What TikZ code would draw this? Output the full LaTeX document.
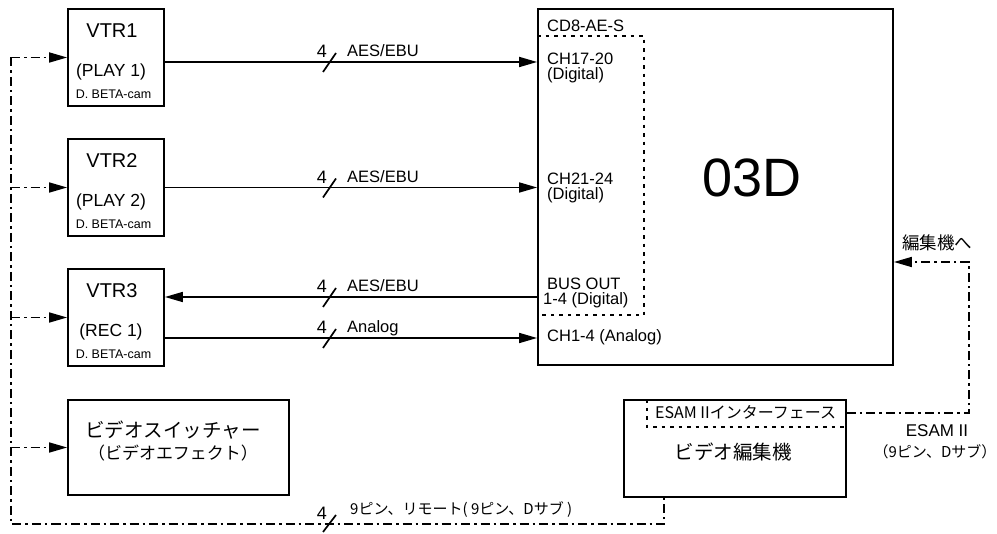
\documentclass[tikz,border=0pt]{standalone}
\usepackage{fontspec}
\setmainfont{Liberation Sans}
\newfontfamily\jp{Noto Sans CJK JP}
\usetikzlibrary{arrows.meta}
\newcommand\fsz[1]{\fontsize{#1}{#1}\selectfont}
\begin{document}
\begin{tikzpicture}[x=1pt,y=-1pt,
  box/.style={draw,line width=1.8pt,inner sep=0pt},
  sig/.style={line width=1.7pt},
  arr/.style={-{Triangle[length=18pt,width=10pt]}},
  dd/.style={line width=1.7pt,dash pattern=on 9pt off 4pt on 2.5pt off 4pt},
  dotb/.style={line width=1.7pt,dash pattern=on 3.5pt off 5pt},
  tx/.style={inner sep=0pt,anchor=base},
  txw/.style={inner sep=0pt,anchor=base west},
  slash/.style={line width=1.7pt}]
\useasboundingbox (0,0) rectangle (997,534);
\fill[white] (0,0) rectangle (997,534);

% boxes
\node[box,minimum width=96pt,minimum height=97pt] (vtr1) at (116,57.5) {};
\node[box,minimum width=96pt,minimum height=97pt] (vtr2) at (116,187.5) {};
\node[box,minimum width=96pt,minimum height=97pt] (vtr3) at (116,317.5) {};
\node[box,minimum width=221pt,minimum height=95pt] (sw) at (178.5,447.5) {};
\node[box,minimum width=355pt,minimum height=356pt] (d03) at (715.5,187) {};
\node[box,minimum width=222pt,minimum height=97pt] (ed) at (735,448.5) {};

% VTR texts
\node[tx,font=\fsz{20}] (v1a) at (112,38) {VTR1};
\node[tx,font=\fsz{17.5}] (v1b) at (111,77) {(PLAY 1)};
\node[tx,font=\fsz{12.5}] (v1c) at (113.5,99) {D. BETA-cam};
\node[tx,font=\fsz{20}] (v2a) at (112,168) {VTR2};
\node[tx,font=\fsz{17.5}] (v2b) at (111,207) {(PLAY 2)};
\node[tx,font=\fsz{12.5}] (v2c) at (113.5,229) {D. BETA-cam};
\node[tx,font=\fsz{20}] (v3a) at (112,298) {VTR3};
\node[tx,font=\fsz{17.5}] (v3b) at (111,337) {(REC 1)};
\node[tx,font=\fsz{12.5}] (v3c) at (113.5,359) {D. BETA-cam};

% switcher
\node[tx,font=\jp\fsz{19.5}] (swa) at (173,437.5) {ビデオスイッチャー};
\node[tx,font=\jp\fsz{17}] (swb) at (173,459.5) {（ビデオエフェクト）};

% 03D
\node[tx,font=\fsz{54}] (d03t) at (752,197) {03D};
\node[txw,font=\fsz{16.5}] (cd8) at (547,32) {CD8-AE-S};
\node[txw,font=\fsz{16.5}] (c17) at (547,65) {CH17-20};
\node[txw,font=\fsz{16.5}] (c17d) at (547,80) {(Digital)};
\node[txw,font=\fsz{16.5}] (c21) at (547,185) {CH21-24};
\node[txw,font=\fsz{16.5}] (c21d) at (547,200) {(Digital)};
\node[txw,font=\fsz{16.5}] (bus) at (547,290) {BUS OUT};
\node[txw,font=\fsz{16.5}] (busd) at (543,305) {1-4 (Digital)};
\node[txw,font=\fsz{16.5}] (c14) at (547,342) {CH1-4 (Analog)};
\draw[dotb] ([yshift=-28pt]d03.north west) -- ++(107,0) -- ++(0,279) -- ++(-107,0);

% editor
\draw[dotb] ([xshift=24pt]ed.north west) -- ++(0,28) coordinate (ic) -- (ic -| ed.east);
\node[txw,font=\jp\fsz{16}] (esi) at (655,419) {ESAM IIインターフェース};
\node[tx,font=\jp\fsz{19.5}] (edt) at (733,459.5) {ビデオ編集機};

% signal lines
\coordinate (sl) at (329,0);
\draw[sig,arr] ([yshift=-4.5pt]vtr1.east) -- ([yshift=-4.5pt]vtr1.east -| d03.west);
\draw[sig,arr] (vtr2.east) -- (vtr2.east -| d03.west);
\draw[sig,arr] ([yshift=20.5pt]vtr3.east -| d03.west) -- ([yshift=20.5pt]vtr3.east);
\draw[sig,arr] ([yshift=-20.5pt]vtr3.east) -- ([yshift=-20.5pt]vtr3.east -| d03.west);

\path ([yshift=-4.5pt]vtr1.east -| sl) coordinate (s1);
\path (vtr2.east -| sl) coordinate (s2);
\path ([yshift=20.5pt]vtr3.east -| sl) coordinate (s3);
\path ([yshift=-20.5pt]vtr3.east -| sl) coordinate (s4);

\foreach \s/\lab in {s1/AES\slash EBU,s2/AES\slash EBU,s3/AES\slash EBU,s4/Analog}{
  \draw[slash] (\s) ++(-6,10) -- ++(13,-19);
  \path (\s) ++(-7,-4) node[tx,font=\fsz{18}] (\s n) {4};
  \path (\s) ++(18,-5) node[txw,font=\fsz{16.5}] (\s l) {\lab};
}

% remote bus
\coordinate (bl) at (11,524);
\coordinate (bx) at (664,0);
\draw[dd] (vtr1.west -| bl) -- (bl) -- (bl -| bx) -- (ed.south -| bx);
\draw[dd,arr] (vtr1.west -| bl) -- (vtr1.west);
\draw[dd,arr] (vtr2.west -| bl) -- (vtr2.west);
\draw[dd,arr] (vtr3.west -| bl) -- (vtr3.west);
\draw[dd,arr] (sw.west -| bl) -- (sw.west);
\path (bl -| sl) coordinate (s5);
\draw[slash] (s5) ++(-6,8) -- ++(13,-17);
\node[tx,font=\fsz{18}] (s5n) at (322,520) {4};
\node[txw,font=\jp\fsz{15}] (s5l) at (350,515) {9ピン、リモート( 9ピン、Dサブ )};

% ESAM line
\coordinate (er) at (969,262);
\draw[dd,arr] ([yshift=35.5pt]ed.east) -| (er) -- (er -| d03.east);
\node[tx,font=\jp\fsz{17.5}] (toed) at (937,249.5) {編集機へ};
\node[tx,font=\fsz{17}] (esam) at (937,437) {ESAM II};
\node[tx,font=\jp\fsz{15}] (esamp) at (935,458) {（9ピン、Dサブ）};
\end{tikzpicture}
\end{document}
